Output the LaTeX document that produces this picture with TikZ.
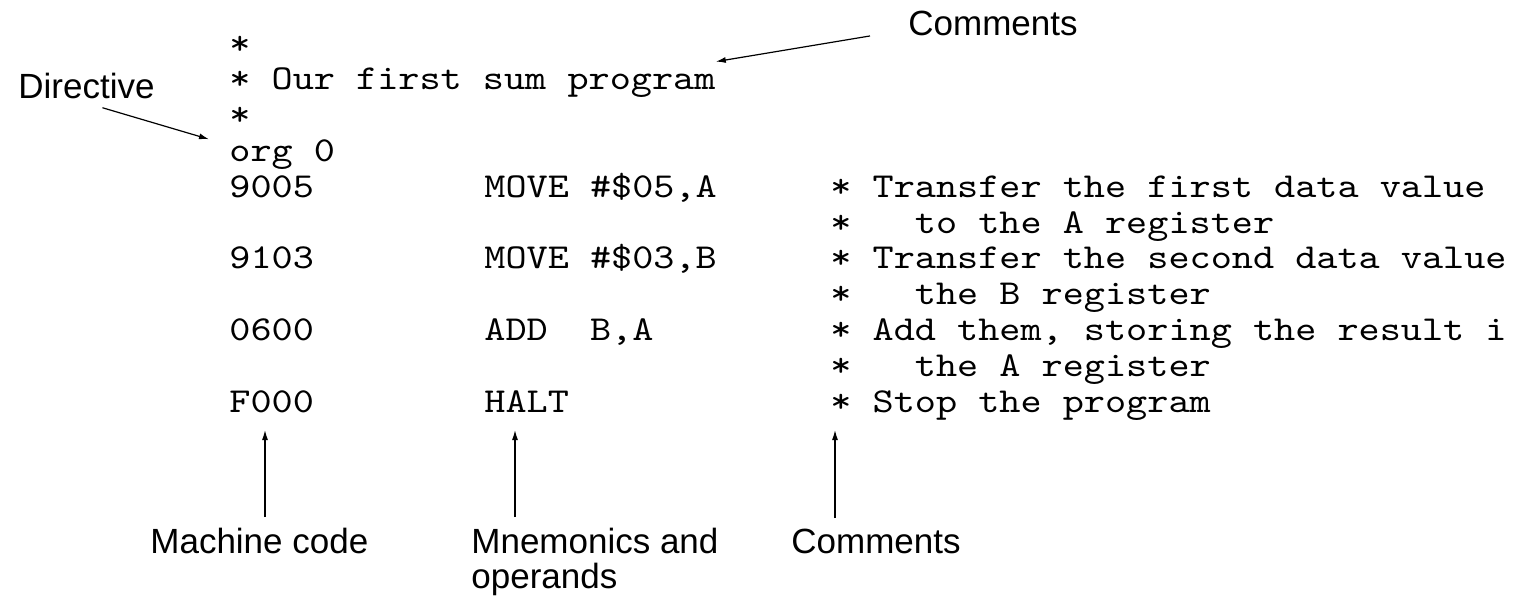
\documentclass[tikz,border=0pt]{standalone}
\usepackage{fontspec}
\setmainfont{Liberation Sans}
\newfontfamily\codefont{lmmono10-regular.otf}[FakeStretch=1.15]
\usetikzlibrary{arrows.meta, calc, positioning}

\begin{document}
\begin{tikzpicture}[x=0.5pt, y=-0.5pt,
    code/.style={anchor=base west, inner sep=0pt, font=\codefont\fontsize{17.5}{20}\selectfont},
    lbl/.style={anchor=base west, inner sep=0pt, align=left, font=\fontsize{17.5}{17.5}\selectfont},
    pointer/.style={-{Latex[length=5pt,width=3pt]}, line width=0.6pt}]

        \useasboundingbox (0,0) rectangle (1519,595);

        % program listing
        \node[code] (cstar1) at (229, 54)    {*};
        \node[code] (ctitle) at (229, 89.8)  {* Our first sum program};
        \node[code] (cstar2) at (229, 125.6) {*};
        \node[code] (corg)   at (229, 161.4) {org 0};

        \node[code] (mc1) at (229, 197.2) {9005};
        \node[code] (mc2) at (229, 268.8) {9103};
        \node[code] (mc3) at (229, 340.4) {0600};
        \node[code] (mc4) at (229, 412)   {F000};

        \node[code] (mn1) at (484, 197.2) {MOVE \#\$05,A};
        \node[code] (mn2) at (484, 268.8) {MOVE \#\$03,B};
        \node[code] (mn3) at (484, 340.4) {ADD~ B,A};
        \node[code] (mn4) at (484, 412)   {HALT};

        \node[code] (cm1) at (830, 197.2) {* Transfer the first data value};
        \node[code] (cm2) at (830, 233)   {*~~ to the A register};
        \node[code] (cm3) at (830, 268.8) {* Transfer the second data value};
        \node[code] (cm4) at (830, 304.6) {*~~ the B register};
        \node[code] (cm5) at (830, 340.4) {* Add them, storing the result i};
        \node[code] (cm6) at (830, 376.2) {*~~ the A register};
        \node[code] (cm7) at (830, 412)   {* Stop the program};

        % labels
        \node[lbl] (lbldir)  at (18, 98)   {Directive};
        \node[lbl] (lbltop)  at (908, 35)  {Comments};
        \node[lbl] (lblmach) at (150, 553) {Machine code};
        \node[lbl] (lblmnem) at (471, 588) {Mnemonics and\\operands};
        \node[lbl] (lblcmt)  at (791, 553) {Comments};

        % arrow tips
        \coordinate (tipmach) at (265, 430);
        \coordinate (tipmnem) at (515, 430);
        \coordinate (tipcmt)  at (835, 430);

        \draw[pointer] ([shift={(8pt,-4.5pt)}]lbldir.south) -- ([xshift=-10pt]corg.north west);
        \draw[pointer] ([shift={(-19pt,-6.5pt)}]lbltop.west) -- ([yshift=3pt]ctitle.north east);

        \draw[pointer, shorten <=5pt] (tipmach |- lblmach.north) -- (tipmach);
        \draw[pointer, shorten <=5pt] (tipmnem |- lblmnem.north) -- (tipmnem);
        \draw[pointer, shorten <=5pt] (tipcmt |- lblcmt.north) -- (tipcmt);

    \end{tikzpicture}
\end{document}
